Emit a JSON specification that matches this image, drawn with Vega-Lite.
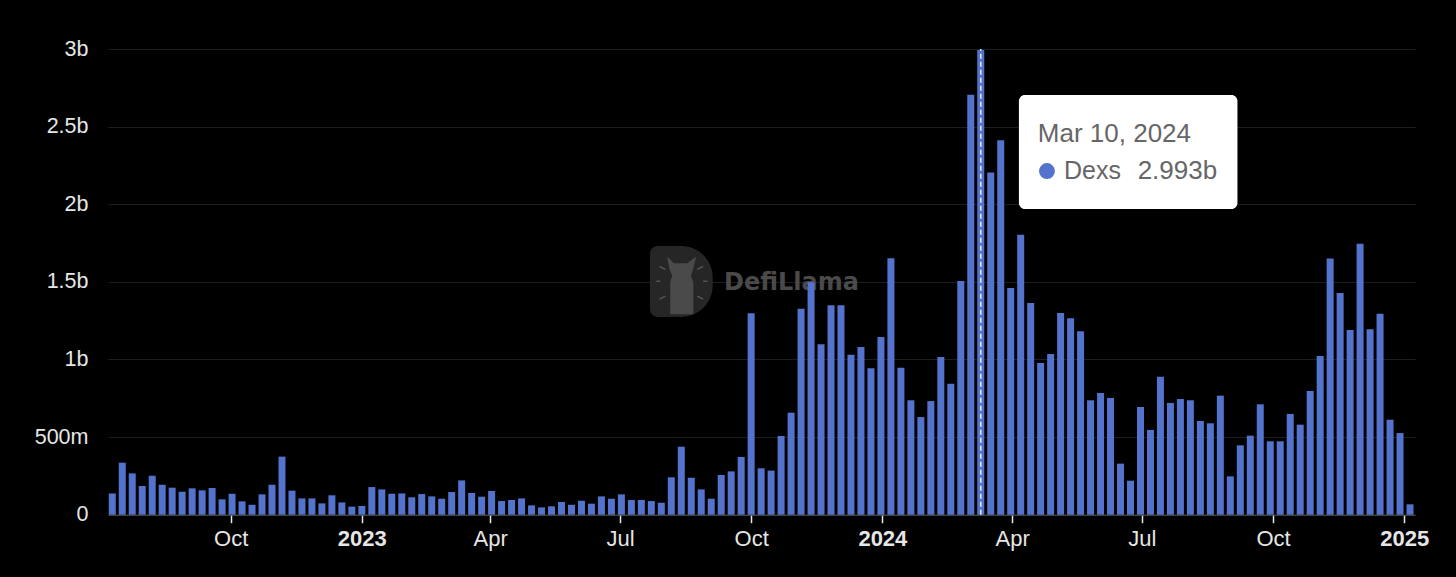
{
  "$schema": "https://vega.github.io/schema/vega-lite/v6.json",
  "autosize": "none",
  "width": 1307,
  "height": 465.7,
  "padding": {"left": 108, "top": 49, "right": 41, "bottom": 62.3},
  "background": "#000000",
  "config": {
    "view": {"stroke": null},
    "font": "Liberation Sans"
  },
  "data": {
    "values": [
      {"date": "2022-07-10", "volume": 137}, {"date": "2022-07-17", "volume": 335}, {"date": "2022-07-24", "volume": 266}, {"date": "2022-07-31", "volume": 185},
      {"date": "2022-08-07", "volume": 251}, {"date": "2022-08-14", "volume": 193}, {"date": "2022-08-21", "volume": 174}, {"date": "2022-08-28", "volume": 148},
      {"date": "2022-09-04", "volume": 170}, {"date": "2022-09-11", "volume": 157}, {"date": "2022-09-18", "volume": 172}, {"date": "2022-09-25", "volume": 99},
      {"date": "2022-10-02", "volume": 135}, {"date": "2022-10-09", "volume": 86}, {"date": "2022-10-16", "volume": 64}, {"date": "2022-10-23", "volume": 131}, {"date": "2022-10-30", "volume": 193},
      {"date": "2022-11-06", "volume": 374}, {"date": "2022-11-13", "volume": 155}, {"date": "2022-11-20", "volume": 105}, {"date": "2022-11-27", "volume": 105},
      {"date": "2022-12-04", "volume": 73}, {"date": "2022-12-11", "volume": 125}, {"date": "2022-12-18", "volume": 79}, {"date": "2022-12-25", "volume": 52},
      {"date": "2023-01-01", "volume": 56}, {"date": "2023-01-08", "volume": 178}, {"date": "2023-01-15", "volume": 163}, {"date": "2023-01-22", "volume": 135}, {"date": "2023-01-29", "volume": 137},
      {"date": "2023-02-05", "volume": 112}, {"date": "2023-02-12", "volume": 133}, {"date": "2023-02-19", "volume": 118}, {"date": "2023-02-26", "volume": 103},
      {"date": "2023-03-05", "volume": 146}, {"date": "2023-03-12", "volume": 221}, {"date": "2023-03-19", "volume": 140}, {"date": "2023-03-26", "volume": 116},
      {"date": "2023-04-02", "volume": 153}, {"date": "2023-04-09", "volume": 88}, {"date": "2023-04-16", "volume": 95}, {"date": "2023-04-23", "volume": 105}, {"date": "2023-04-30", "volume": 60},
      {"date": "2023-05-07", "volume": 47}, {"date": "2023-05-14", "volume": 54}, {"date": "2023-05-21", "volume": 82}, {"date": "2023-05-28", "volume": 64},
      {"date": "2023-06-04", "volume": 90}, {"date": "2023-06-11", "volume": 71}, {"date": "2023-06-18", "volume": 118}, {"date": "2023-06-25", "volume": 103},
      {"date": "2023-07-02", "volume": 131}, {"date": "2023-07-09", "volume": 95}, {"date": "2023-07-16", "volume": 95}, {"date": "2023-07-23", "volume": 88}, {"date": "2023-07-30", "volume": 77},
      {"date": "2023-08-06", "volume": 241}, {"date": "2023-08-13", "volume": 438}, {"date": "2023-08-20", "volume": 238}, {"date": "2023-08-27", "volume": 163},
      {"date": "2023-09-03", "volume": 103}, {"date": "2023-09-10", "volume": 256}, {"date": "2023-09-17", "volume": 279}, {"date": "2023-09-24", "volume": 372},
      {"date": "2023-10-01", "volume": 1297}, {"date": "2023-10-08", "volume": 299}, {"date": "2023-10-15", "volume": 284}, {"date": "2023-10-22", "volume": 507}, {"date": "2023-10-29", "volume": 657},
      {"date": "2023-11-05", "volume": 1327}, {"date": "2023-11-12", "volume": 1497}, {"date": "2023-11-19", "volume": 1098}, {"date": "2023-11-26", "volume": 1349},
      {"date": "2023-12-03", "volume": 1349}, {"date": "2023-12-10", "volume": 1031}, {"date": "2023-12-17", "volume": 1080}, {"date": "2023-12-24", "volume": 943}, {"date": "2023-12-31", "volume": 1145},
      {"date": "2024-01-07", "volume": 1652}, {"date": "2024-01-14", "volume": 947}, {"date": "2024-01-21", "volume": 737}, {"date": "2024-01-28", "volume": 629},
      {"date": "2024-02-04", "volume": 732}, {"date": "2024-02-11", "volume": 1016}, {"date": "2024-02-18", "volume": 844}, {"date": "2024-02-25", "volume": 1506},
      {"date": "2024-03-03", "volume": 2706}, {"date": "2024-03-10", "volume": 2993}, {"date": "2024-03-17", "volume": 2204}, {"date": "2024-03-24", "volume": 2412}, {"date": "2024-03-31", "volume": 1461},
      {"date": "2024-04-07", "volume": 1804}, {"date": "2024-04-14", "volume": 1364}, {"date": "2024-04-21", "volume": 977}, {"date": "2024-04-28", "volume": 1035},
      {"date": "2024-05-05", "volume": 1300}, {"date": "2024-05-12", "volume": 1265}, {"date": "2024-05-19", "volume": 1181}, {"date": "2024-05-26", "volume": 737},
      {"date": "2024-06-02", "volume": 784}, {"date": "2024-06-09", "volume": 752}, {"date": "2024-06-16", "volume": 329}, {"date": "2024-06-23", "volume": 219}, {"date": "2024-06-30", "volume": 694},
      {"date": "2024-07-07", "volume": 546}, {"date": "2024-07-14", "volume": 889}, {"date": "2024-07-21", "volume": 720}, {"date": "2024-07-28", "volume": 745},
      {"date": "2024-08-04", "volume": 737}, {"date": "2024-08-11", "volume": 604}, {"date": "2024-08-18", "volume": 589}, {"date": "2024-08-25", "volume": 767},
      {"date": "2024-09-01", "volume": 247}, {"date": "2024-09-08", "volume": 447}, {"date": "2024-09-15", "volume": 509}, {"date": "2024-09-22", "volume": 711}, {"date": "2024-09-29", "volume": 473},
      {"date": "2024-10-06", "volume": 473}, {"date": "2024-10-13", "volume": 649}, {"date": "2024-10-20", "volume": 580}, {"date": "2024-10-27", "volume": 797},
      {"date": "2024-11-03", "volume": 1022}, {"date": "2024-11-10", "volume": 1650}, {"date": "2024-11-17", "volume": 1428}, {"date": "2024-11-24", "volume": 1190},
      {"date": "2024-12-01", "volume": 1746}, {"date": "2024-12-08", "volume": 1194}, {"date": "2024-12-15", "volume": 1295}, {"date": "2024-12-22", "volume": 612}, {"date": "2024-12-29", "volume": 526},
      {"date": "2025-01-05", "volume": 67}
    ]
  },
  "layer": [
    {
      "data": {"values": [{"name": "logo"}]},
      "mark": {"type": "rect", "color": "#262626", "cornerRadiusTopLeft": 8, "cornerRadiusBottomLeft": 8, "cornerRadiusTopRight": 36, "cornerRadiusBottomRight": 36},
      "encoding": {
        "x": {"datum": {"year": 2023, "month": "jul", "date": 22}, "type": "temporal"},
        "x2": {"datum": {"year": 2023, "month": "sep", "date": 4}},
        "y": {"datum": 1731, "type": "quantitative"},
        "y2": {"datum": 1274}
      }
    },
    {
      "data": {"values": [{"name": "llama"}]},
      "mark": {"type": "point", "filled": true, "opacity": 1, "color": "#4a4a4a", "size": 3600, "shape": "M -0.47 -0.95 L -0.25 -0.72 L 0.2 -0.72 L 0.5 -0.95 L 0.4 -0.55 L 0.32 -0.3 L 0.4 -0.1 L 0.4 0.98 L -0.37 0.98 L -0.37 -0.1 L -0.3 -0.3 L -0.4 -0.55 Z"},
      "encoding": {
        "x": {"datum": {"year": 2023, "month": "aug", "date": 13}, "type": "temporal"},
        "y": {"datum": 1480, "type": "quantitative"}
      }
    },
    {
      "data": {"values": [{"name": "rays"}]},
      "mark": {"type": "point", "filled": false, "opacity": 1, "color": "#555555", "strokeWidth": 1.5, "size": 3600, "shape": "M -0.73 -0.62 L -0.53 -0.52 M -0.83 -0.12 L -0.7 -0.12 M -0.73 0.47 L -0.53 0.37 M 0.53 -0.52 L 0.73 -0.62 M 0.73 -0.12 L 0.87 -0.12 M 0.53 0.37 L 0.73 0.47"},
      "encoding": {
        "x": {"datum": {"year": 2023, "month": "aug", "date": 13}, "type": "temporal"},
        "y": {"datum": 1480, "type": "quantitative"}
      }
    },
    {
      "data": {"values": [{"label": "DefiLlama"}]},
      "mark": {"type": "text", "align": "left", "baseline": "middle", "font": "DejaVu Sans", "fontWeight": "bold", "fontSize": 24, "color": "#4a4a4a"},
      "encoding": {
        "x": {"datum": {"year": 2023, "month": "sep", "date": 12}, "type": "temporal"},
        "y": {"datum": 1493, "type": "quantitative"},
        "text": {"field": "label"}
      }
    },
    {
      "mark": {"type": "bar", "size": 7, "color": "#5373cc"},
      "encoding": {
        "x": {
          "field": "date",
          "type": "temporal",
          "scale": {"padding": 0, "domain": [{"year": 2022, "month": "jul", "date": 7}, {"year": 2025, "month": "jan", "date": 8, "hours": 12}]},
          "axis": {
            "title": null,
            "grid": false,
            "values": [
              {"year": 2022, "month": "oct", "date": 1},
              {"year": 2023, "month": "jan", "date": 1},
              {"year": 2023, "month": "apr", "date": 1},
              {"year": 2023, "month": "jul", "date": 1},
              {"year": 2023, "month": "oct", "date": 1},
              {"year": 2024, "month": "jan", "date": 1},
              {"year": 2024, "month": "apr", "date": 1},
              {"year": 2024, "month": "jul", "date": 1},
              {"year": 2024, "month": "oct", "date": 1},
              {"year": 2025, "month": "jan", "date": 1}
            ],
            "labelExpr": "month(datum.value) == 0 ? timeFormat(datum.value, '%Y') : timeFormat(datum.value, '%b')",
            "labelFontWeight": {"condition": {"test": "month(datum.value) == 0", "value": "bold"}, "value": "normal"},
            "labelColor": "#e6e6e6",
            "labelFontSize": 22,
            "labelPadding": 6,
            "labelOverlap": false,
            "labelBound": false,
            "labelFlush": false,
            "domainColor": "#5f5848",
            "domainWidth": 1,
            "tickColor": "#e6e6e6",
            "tickWidth": 1.5,
            "tickSize": 8
          }
        },
        "y": {
          "field": "volume",
          "type": "quantitative",
          "scale": {"domain": [0, 3000], "nice": false},
          "axis": {
            "title": null,
            "values": [0, 500, 1000, 1500, 2000, 2500, 3000],
            "labelExpr": "datum.value == 0 ? '0' : datum.value >= 1000 ? (datum.value / 1000) + 'b' : datum.value + 'm'",
            "labelColor": "#e6e6e6",
            "labelFontSize": 21.5,
            "labelPadding": 20,
            "domain": false,
            "ticks": false,
            "grid": true,
            "gridColor": "#1e1e1e",
            "gridWidth": 1
          }
        }
      }
    },
    {
      "data": {"values": [{"name": "cursor"}]},
      "mark": {"type": "rule", "color": "#e4e9f8", "strokeWidth": 1.5, "strokeDash": [5, 3]},
      "encoding": {
        "x": {"datum": {"year": 2024, "month": "mar", "date": 10}, "type": "temporal"},
        "y": {"datum": 0, "type": "quantitative"},
        "y2": {"datum": 3000}
      }
    },
    {
      "data": {"values": [{"name": "tooltip"}]},
      "mark": {"type": "rect", "color": "#ffffff", "cornerRadius": 6},
      "encoding": {
        "x": {"datum": {"year": 2024, "month": "apr", "date": 5, "hours": 18}, "type": "temporal"},
        "x2": {"datum": {"year": 2024, "month": "sep", "date": 6}},
        "y": {"datum": 2704, "type": "quantitative"},
        "y2": {"datum": 1970}
      }
    },
    {
      "data": {"values": [{"label": "Mar 10, 2024"}]},
      "mark": {"type": "text", "align": "left", "baseline": "middle", "fontSize": 26, "color": "#666666"},
      "encoding": {
        "x": {"datum": {"year": 2024, "month": "apr", "date": 19}, "type": "temporal"},
        "y": {"datum": 2453, "type": "quantitative"},
        "text": {"field": "label"}
      }
    },
    {
      "data": {"values": [{"name": "dot"}]},
      "mark": {"type": "point", "shape": "circle", "filled": true, "opacity": 1, "color": "#5373cc", "size": 254},
      "encoding": {
        "x": {"datum": {"year": 2024, "month": "apr", "date": 25, "hours": 10}, "type": "temporal"},
        "y": {"datum": 2214, "type": "quantitative"}
      }
    },
    {
      "data": {"values": [{"label": "Dexs"}]},
      "mark": {"type": "text", "align": "left", "baseline": "middle", "fontSize": 25, "color": "#666666"},
      "encoding": {
        "x": {"datum": {"year": 2024, "month": "may", "date": 7, "hours": 8}, "type": "temporal"},
        "y": {"datum": 2214, "type": "quantitative"},
        "text": {"field": "label"}
      }
    },
    {
      "data": {"values": [{"label": "2.993b"}]},
      "mark": {"type": "text", "align": "left", "baseline": "middle", "fontSize": 26, "color": "#666666"},
      "encoding": {
        "x": {"datum": {"year": 2024, "month": "jun", "date": 28}, "type": "temporal"},
        "y": {"datum": 2214, "type": "quantitative"},
        "text": {"field": "label"}
      }
    }
  ]
}
